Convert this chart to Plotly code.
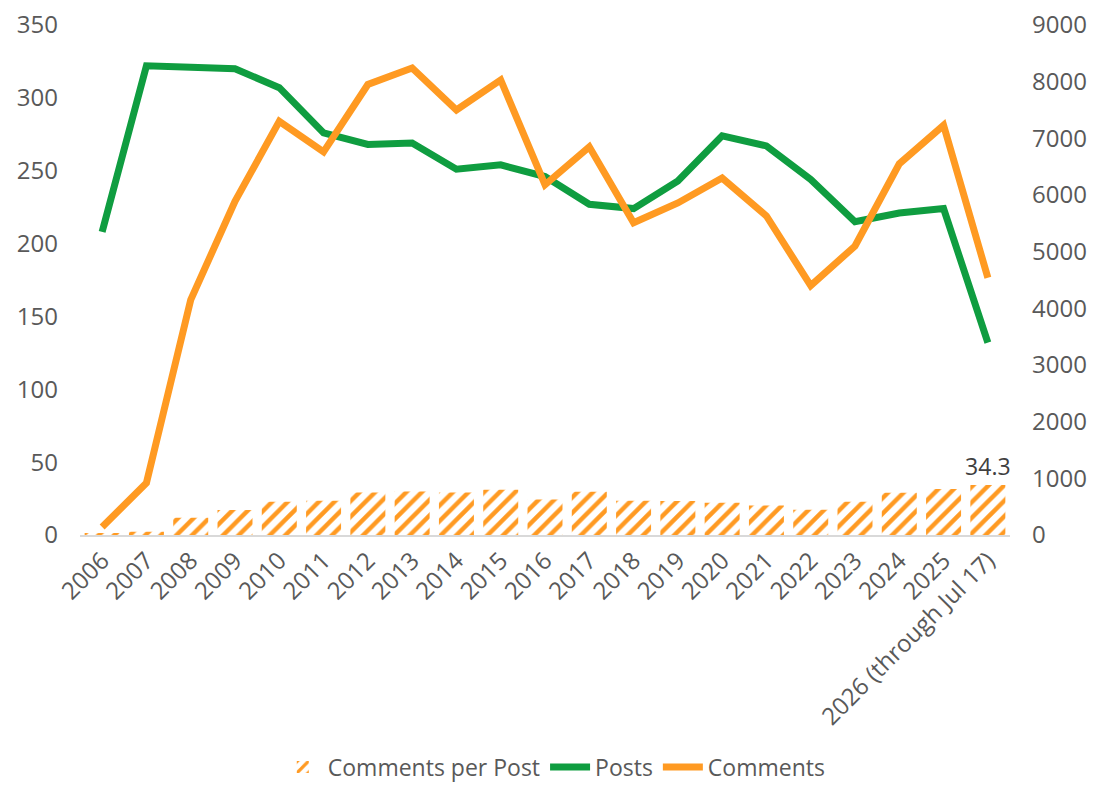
import plotly.graph_objects as go

years = ["2006", "2007", "2008", "2009", "2010", "2011", "2012", "2013", "2014",
         "2015", "2016", "2017", "2018", "2019", "2020", "2021", "2022", "2023",
         "2024", "2025", "2026 (through Jul 17)"]

posts = [208, 322, 321, 320, 307, 276, 268, 269, 251, 254, 246, 227, 224, 243,
         274, 267, 244, 215, 221, 224, 132]

comments = [140, 920, 4150, 5890, 7300, 6760, 7950, 8240, 7500, 8030, 6180, 6850,
            5510, 5860, 6300, 5630, 4400, 5100, 6550, 7230, 4540]

comments_per_post = [0.7, 2.3, 11.9, 17.2, 22.8, 23.5, 29.2, 29.8, 29.2, 31.0,
                     24.3, 29.6, 23.5, 23.4, 22.1, 20.3, 17.4, 22.8, 29.0, 31.6, 34.3]

green = "#0F9D40"
orange = "#FF9A22"
grey_text = "#595959"
font_family = "'Open Sans', sans-serif"

# only the last bar carries a label
bar_text = ["" for v in comments_per_post[:-1]] + [f"{comments_per_post[-1]:.1f}"]

fig = go.Figure()

fig.add_trace(go.Bar(
    x=years, y=comments_per_post, name="Comments per Post",
    marker=dict(color="white", line=dict(width=0),
                pattern=dict(shape="/", fgcolor=orange, bgcolor="white",
                             fgopacity=1, size=11, solidity=0.4)),
    text=bar_text, textposition="outside", cliponaxis=False, constraintext="none",
    textfont=dict(size=23, color="#404040", family=font_family),
    yaxis="y",
))

fig.add_trace(go.Scatter(
    x=years, y=posts, name="Posts", mode="lines",
    line=dict(color=green, width=7),
    yaxis="y",
))

fig.add_trace(go.Scatter(
    x=years, y=comments, name="Comments", mode="lines",
    line=dict(color=orange, width=7),
    yaxis="y2",
))

fig.update_layout(
    width=1106, height=800,
    margin=dict(l=72, r=104, t=17, b=273, autoexpand=False),
    paper_bgcolor="white", plot_bgcolor="white",
    font=dict(family=font_family, size=22, color=grey_text),
    bargap=0.21,
    showlegend=True,
    legend=dict(orientation="h", x=0.51, xanchor="center", y=-0.455, yanchor="middle",
                font=dict(size=23, color=grey_text), traceorder="normal",
                itemwidth=40, tracegroupgap=0),
    xaxis=dict(tickangle=-45, showgrid=False, showline=True, linecolor="#D9D9D9",
               linewidth=2, ticks="", tickfont=dict(size=24, color=grey_text)),
    yaxis=dict(range=[0, 350], dtick=50, showgrid=False, zeroline=False,
               showline=False, ticks="", ticklabelstandoff=21,
               ticklabeloverflow="allow",
               tickfont=dict(size=24, color=grey_text)),
    yaxis2=dict(range=[0, 9000], dtick=1000, overlaying="y", side="right",
                showgrid=False, zeroline=False, showline=False, ticks="",
                ticklabelstandoff=21, ticklabeloverflow="allow",
                tickfont=dict(size=24, color=grey_text)),
)

fig.write_html("out.html")
